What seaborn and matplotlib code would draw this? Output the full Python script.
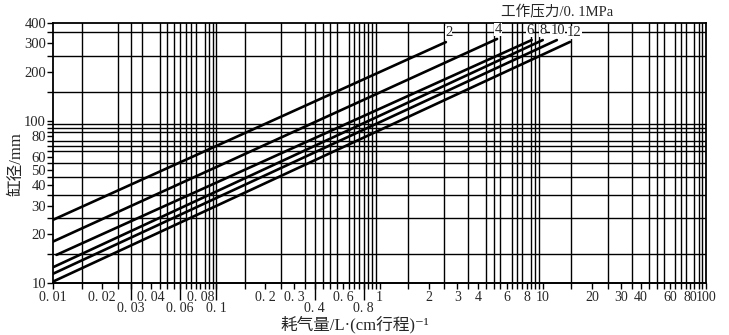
import numpy as np
import pandas as pd
import matplotlib
matplotlib.use("Agg")
import matplotlib.pyplot as plt
from matplotlib.ticker import FixedLocator, FixedFormatter, NullFormatter, NullLocator
import seaborn as sns

# Working pressure (x0.1 MPa) for each characteristic line
pressures = [2, 4, 6, 8, 10, 12]
# Line end points: air consumption (L per cm of stroke) and bore (mm)
q_start = [0.01, 0.01, 0.0105, 0.01, 0.01, 0.01]
d_start = [24.5, 18.0, 14.9, 12.5, 11.4, 10.2]
q_end = [2.55, 5.25, 8.55, 10.0, 12.2, 14.7]
d_end = [305, 319, 314, 314, 314, 306]
# Horizontal nudge of each pressure label (points)
label_dx = [2.0, 0.7, -1.5, 0.0, 0.5, 3.0]

# Axis tick labels (upper row, lower row, and bore ticks)
x_row1 = [0.01, 0.02, 0.04, 0.08, 0.2, 0.3, 0.6, 1, 2, 3, 4, 6, 8, 10, 20, 30, 40, 60, 80, 100]
x_row1_labels = ["0. 01", "0. 02", "0. 04", "0. 08", "0. 2", "0. 3", "0. 6", "1", "2", "3", "4",
                 "6", "8", "10", "20", "30", "40", "60", "80", "100"]
x_row2 = [0.03, 0.06, 0.1, 0.4, 0.8]
x_row2_labels = ["0. 03", "0. 06", "0. 1", "0. 4", "0. 8"]
y_ticks = [10, 20, 30, 40, 50, 60, 80, 100, 200, 300, 400]
y_tick_labels = [str(v) for v in y_ticks]

sns.set_style("ticks")
plt.rcParams["font.family"] = ["Liberation Serif", "Noto Sans CJK SC", "DejaVu Sans"]

rows = []
for p, qa, da, qb, db in zip(pressures, q_start, d_start, q_end, d_end):
    rows.append({"p": p, "q": qa, "d": da})
    rows.append({"p": p, "q": qb, "d": db})
df = pd.DataFrame(rows)

fig = plt.figure(figsize=(7.29, 3.35), dpi=100)
ax = fig.add_axes([53 / 729, 1 - 283 / 335, 653 / 729, 260 / 335])

# Log-log grid: every half unit within each decade
x_grid = np.concatenate([np.arange(1, 10, 0.5) * 10.0 ** e for e in range(-2, 2)] + [np.array([100.0])])
y_grid = np.concatenate([np.arange(10, 100, 5), np.arange(100, 401, 50)]).astype(float)

sns.lineplot(data=df, x="q", y="d", units="p", estimator=None, color="black",
             linewidth=1.9, ax=ax, legend=False, zorder=3)

ax.set_xscale("log")
ax.set_yscale("log")
ax.set_xlim(0.01, 100)
ax.set_ylim(10, 400)

# Gridlines drawn from minor ticks
ax.xaxis.set_minor_locator(FixedLocator(x_grid))
ax.yaxis.set_minor_locator(FixedLocator(y_grid))
ax.xaxis.set_minor_formatter(NullFormatter())
ax.yaxis.set_minor_formatter(NullFormatter())
ax.grid(which="minor", color="black", linewidth=1.0)
ax.grid(which="major", visible=False)

# Upper row of x labels on the main axis
ax.xaxis.set_major_locator(FixedLocator(x_row1))
ax.xaxis.set_major_formatter(FixedFormatter(x_row1_labels))
ax.yaxis.set_major_locator(FixedLocator(y_ticks))
ax.yaxis.set_major_formatter(FixedFormatter(y_tick_labels))

ax.tick_params(which="both", direction="out", length=4, width=1.0, color="black")
ax.tick_params(axis="x", which="major", labelsize=10, pad=2)
ax.tick_params(axis="y", which="major", labelsize=10.5, pad=1)

# Lower row of x labels with long ticks
sec = ax.secondary_xaxis("bottom")
sec.xaxis.set_major_locator(FixedLocator(x_row2))
sec.xaxis.set_major_formatter(FixedFormatter(x_row2_labels))
sec.xaxis.set_minor_locator(NullLocator())
sec.tick_params(axis="x", which="major", direction="out", length=12, width=1.0,
                labelsize=10, pad=1.5, color="black")
sec.spines["bottom"].set_linewidth(1.3)

for s in ax.spines.values():
    s.set_linewidth(1.3)
    s.set_color("black")

# Pressure labels at the upper end of each line
for p, qb, db, dx in zip(pressures, q_end, d_end, label_dx):
    ax.annotate(str(p), xy=(qb, db), xytext=(dx, 2), textcoords="offset points",
                ha="center", va="bottom", fontsize=10.5, zorder=5,
                bbox=dict(boxstyle="square,pad=0.0", fc="white", ec="none"),
                annotation_clip=False)

ax.set_xlabel("耗气量/L·(cm行程)⁻¹", fontsize=12)
ax.xaxis.set_label_coords(0.4625, -0.127)
ax.set_ylabel("缸径/mm", fontsize=12)
ax.yaxis.set_label_coords(-0.043, 0.458)

fig.text(557 / 729, 1 - 12 / 335, "工作压力/0. 1MPa", ha="center", va="center", fontsize=10.5)

fig.savefig("out.png", dpi=100)
